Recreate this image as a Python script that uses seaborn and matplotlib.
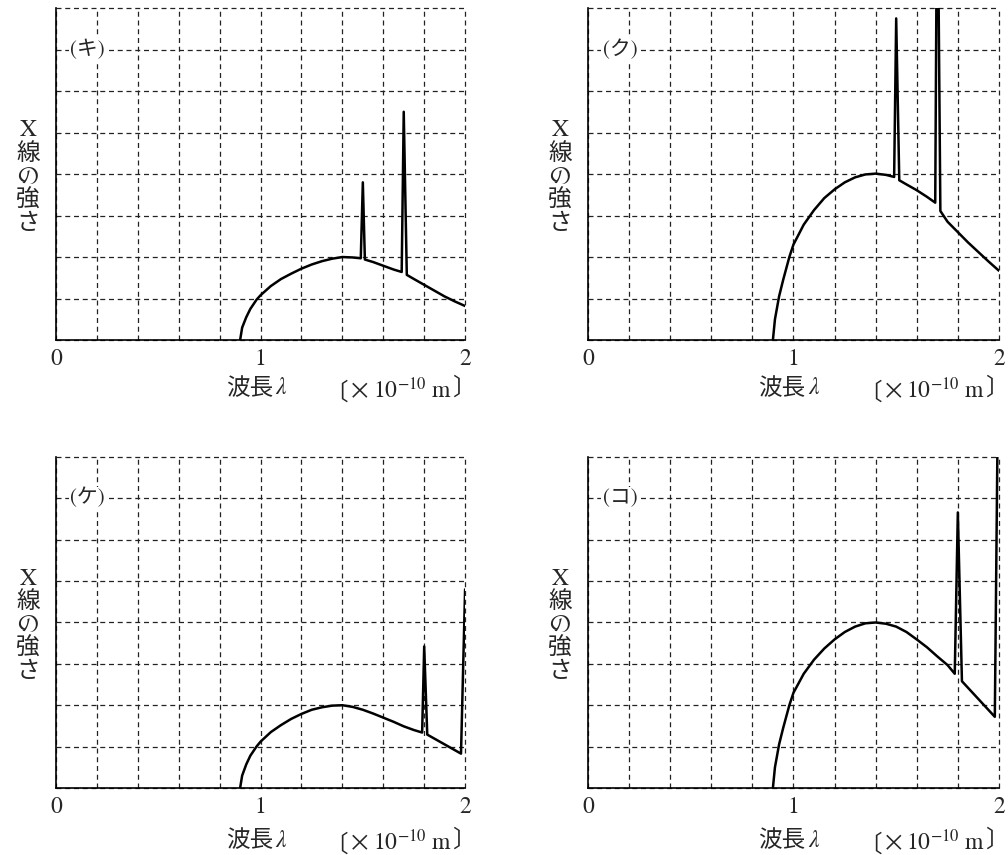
import numpy as np
import pandas as pd
import matplotlib
matplotlib.use("Agg")
import matplotlib.pyplot as plt
import seaborn as sns

# valeurs (intensité en unités de quadrillage, 0..8)
ki_x = [0.90, 0.91, 0.93, 0.95, 0.98, 1.00, 1.05, 1.10, 1.15, 1.20, 1.25, 1.30, 1.35, 1.40,
        1.45, 1.49, 1.50, 1.51, 1.55, 1.60, 1.65, 1.69, 1.70, 1.715, 1.75, 1.80, 1.85, 1.90, 1.95, 2.00]
ki_y = [0.00, 0.30, 0.55, 0.75, 0.97, 1.08, 1.30, 1.47, 1.60, 1.72, 1.82, 1.90, 1.96, 2.00,
        1.99, 1.97, 3.80, 1.94, 1.88, 1.79, 1.70, 1.64, 5.50, 1.57, 1.47, 1.33, 1.19, 1.05, 0.93, 0.82]

ku_x = [0.90, 0.91, 0.93, 0.95, 0.98, 1.00, 1.05, 1.10, 1.15, 1.20, 1.25, 1.30, 1.35, 1.40,
        1.45, 1.49, 1.50, 1.515, 1.55, 1.60, 1.65, 1.69, 1.70, 1.715, 1.75, 1.80, 1.85, 1.90, 1.95, 2.00]
ku_y = [0.00, 0.50, 1.05, 1.45, 2.00, 2.30, 2.78, 3.13, 3.42, 3.63, 3.80, 3.92, 3.99, 4.01,
        3.98, 3.93, 7.75, 3.85, 3.75, 3.61, 3.45, 3.31, 12.0, 3.11, 2.85, 2.60, 2.35, 2.12, 1.89, 1.67]

ke_x = [0.90, 0.91, 0.93, 0.95, 0.98, 1.00, 1.05, 1.10, 1.15, 1.20, 1.25, 1.30, 1.35, 1.40,
        1.45, 1.50, 1.55, 1.60, 1.65, 1.70, 1.75, 1.79, 1.80, 1.815, 1.98, 2.00]
ke_y = [0.00, 0.30, 0.57, 0.78, 1.00, 1.12, 1.35, 1.52, 1.67, 1.79, 1.89, 1.95, 1.99, 2.00,
        1.96, 1.89, 1.80, 1.70, 1.60, 1.49, 1.40, 1.34, 3.42, 1.29, 0.83, 4.80]

ko_x = [0.90, 0.91, 0.93, 0.95, 0.98, 1.00, 1.05, 1.10, 1.15, 1.20, 1.25, 1.30, 1.35, 1.40,
        1.45, 1.50, 1.55, 1.60, 1.65, 1.70, 1.75, 1.785, 1.80, 1.82, 1.98, 2.00]
ko_y = [0.00, 0.50, 1.05, 1.45, 2.00, 2.30, 2.76, 3.10, 3.37, 3.59, 3.77, 3.90, 3.98, 4.00,
        3.97, 3.90, 3.77, 3.59, 3.40, 3.18, 2.97, 2.76, 6.66, 2.58, 1.72, 12.0]

panels = [("(キ)", ki_x, ki_y), ("(ク)", ku_x, ku_y), ("(ケ)", ke_x, ke_y), ("(コ)", ko_x, ko_y)]

x_grid = np.arange(0, 2.01, 0.2)
y_grid = np.arange(0, 9, 1)
x_ticklabels = ["0", "1", "2"]

CJK = ['Noto Sans CJK JP', 'DejaVu Sans']

sns.set_theme(style="white")
plt.rcParams['font.family'] = ['STIXGeneral', 'Noto Sans CJK JP', 'DejaVu Sans']
plt.rcParams['mathtext.fontset'] = 'stix'

fig = plt.figure(figsize=(10.08, 8.55), dpi=100)
positions = [
    [0.0556, 0.6023, 0.4058, 0.3883],
    [0.5833, 0.6023, 0.4077, 0.3883],
    [0.0556, 0.0784, 0.4058, 0.3871],
    [0.5833, 0.0784, 0.4077, 0.3871],
]
label_y = [-0.145, -0.145, -0.158, -0.158]

for (label, xs, ys), pos, ly in zip(panels, positions, label_y):
    ax = fig.add_axes(pos)
    df = pd.DataFrame({"x": xs, "y": ys})
    sns.lineplot(data=df, x="x", y="y", sort=False, estimator=None,
                 color="black", lw=1.8, ax=ax, zorder=3)

    ax.set_xlim(0, 2)
    ax.set_ylim(0, 8)
    ax.set_xticks(x_grid)
    ax.set_yticks(y_grid)
    ax.set_xticklabels([x_ticklabels[int(round(v))] if abs(v - round(v)) < 1e-6 else "" for v in x_grid],
                       fontsize=17)
    ax.set_yticklabels([])
    ax.tick_params(length=0, pad=6)
    ax.grid(True, color="#222222", lw=0.9, linestyle=(0, (4, 3)))
    for gl in ax.get_xgridlines() + ax.get_ygridlines():
        gl.set_clip_on(False)
    for s in ["top", "right"]:
        ax.spines[s].set_visible(False)
    for s in ["left", "bottom"]:
        ax.spines[s].set_color("black")
        ax.spines[s].set_linewidth(1.2)
    ax.set_facecolor("white")

    ax.set_xlabel("")
    ax.set_ylabel("X\n線\nの\n強\nさ", rotation=0, fontsize=17, linespacing=1.1,
                  va="center", ha="center")
    ax.yaxis.set_label_coords(-0.068, 0.49)

    ax.text(0.155, 7.0, label, fontsize=15, ha="center", va="center", zorder=4,
            bbox=dict(facecolor="white", edgecolor="none", pad=1))

    # axe des x : « 波長 λ » et l'unité
    trans = ax.get_xaxis_transform()
    ax.text(1.06, ly, "波長", transform=trans, family=CJK, fontsize=17, ha="right", va="center")
    ax.text(1.07, ly, "λ", transform=trans, family="STIXGeneral", style="italic",
            fontsize=17, ha="left", va="center")
    t_close = ax.text(2.05, ly, "〕", transform=trans, family=CJK, fontsize=17,
                      ha="right", va="center")
    t_mid = ax.annotate(r"10$^{-10}$ m", xy=(0.0, 0.42), xycoords=t_close,
                        fontsize=17, ha="right", va="center")
    t_times = ax.annotate("×", xy=(0.0, 0.5), xycoords=t_mid, xytext=(-1, -2),
                          textcoords="offset points", family=CJK, fontsize=17,
                          ha="right", va="center")
    ax.annotate("〔", xy=(0.0, 0.5), xycoords=t_times, family=CJK, fontsize=17,
                ha="right", va="center")

fig.savefig("out.png", dpi=100, facecolor="white")
